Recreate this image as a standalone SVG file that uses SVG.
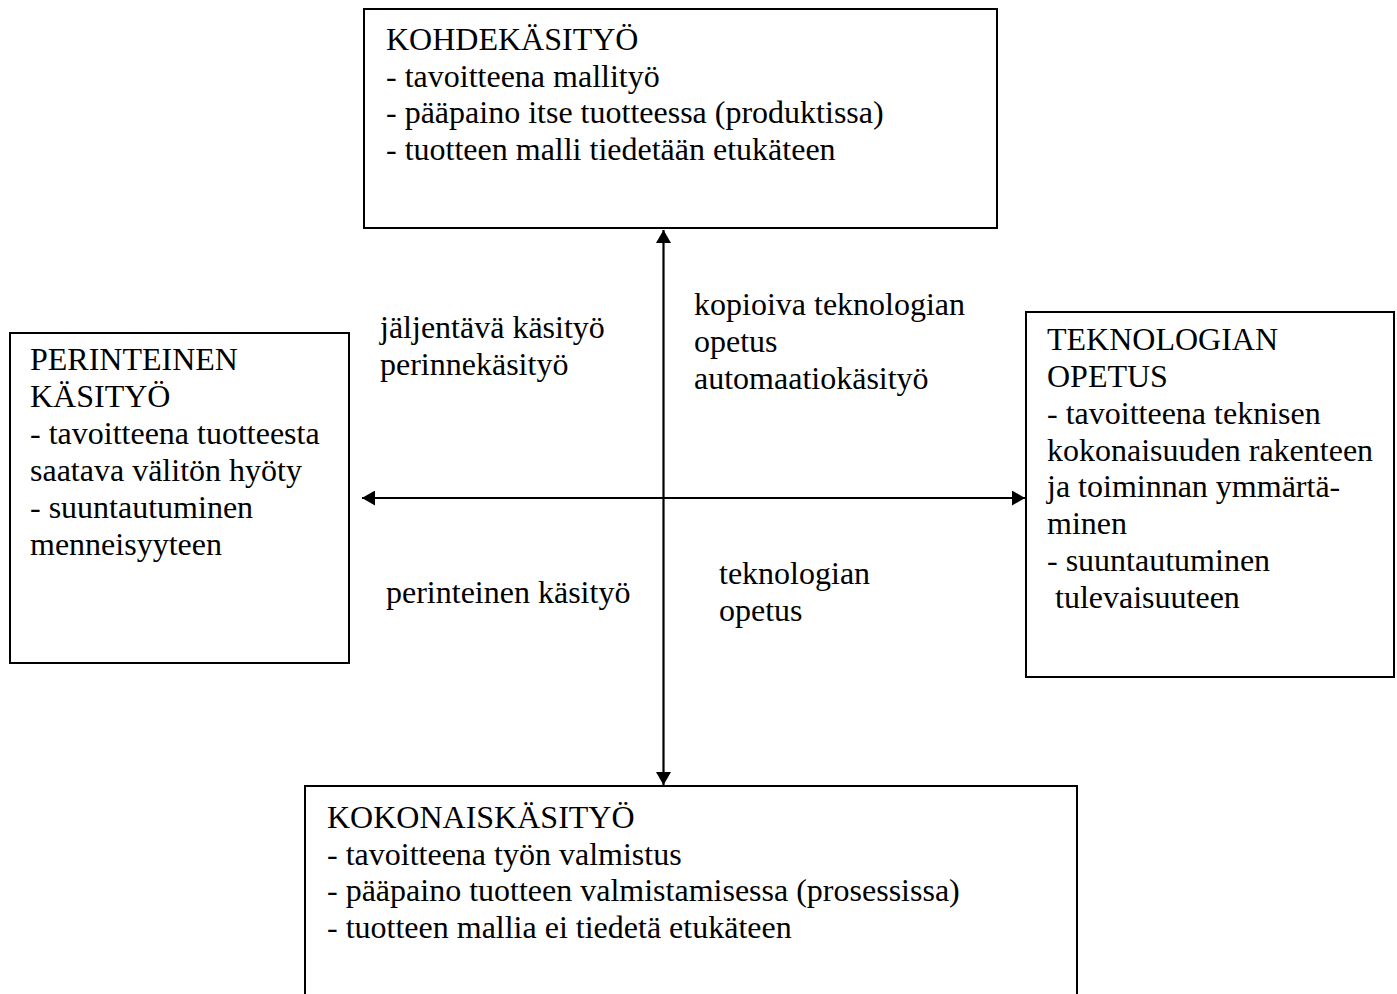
<svg xmlns="http://www.w3.org/2000/svg" width="1397" height="994" viewBox="0 0 1397 994">
<style>
.box{fill:#fff;stroke:#000;stroke-width:2}
text{font-family:"Liberation Serif","Times New Roman",serif;font-size:32px;fill:#000}
.conn{stroke:#000;stroke-width:2.2;fill:none}
</style>
<defs>
<marker id="ah" viewBox="0 0 13 15" refX="13" refY="7.5" markerWidth="13" markerHeight="15" markerUnits="userSpaceOnUse" orient="auto">
<path d="M0,0 L13,7.5 L0,15 Z" fill="#000"/>
</marker>
</defs>
<rect width="1397" height="994" fill="#fff"/>
<g id="connectors">
<line class="conn" x1="663.5" y1="497" x2="663.5" y2="230" marker-end="url(#ah)"/>
<line class="conn" x1="663.5" y1="497" x2="663.5" y2="785" marker-end="url(#ah)"/>
<line class="conn" x1="663.5" y1="498" x2="362" y2="498" marker-end="url(#ah)"/>
<line class="conn" x1="663.5" y1="498" x2="1025" y2="498" marker-end="url(#ah)"/>
</g>
<g id="kohdekasityo">
<rect class="box" x="364" y="9" width="633" height="219"/>
<text x="386" y="50">KOHDEKÄSITYÖ</text>
<text x="386" y="87">- tavoitteena mallityö</text>
<text x="386" y="123">- pääpaino itse tuotteessa (produktissa)</text>
<text x="386" y="160">- tuotteen malli tiedetään etukäteen</text>
</g>
<g id="perinteinen">
<rect class="box" x="10" y="333" width="339" height="330"/>
<text x="30" y="370">PERINTEINEN</text>
<text x="30" y="407">KÄSITYÖ</text>
<text x="30" y="444">- tavoitteena tuotteesta</text>
<text x="30" y="481">saatava välitön hyöty</text>
<text x="30" y="518">- suuntautuminen</text>
<text x="30" y="555">menneisyyteen</text>
</g>
<g id="teknologian-opetus">
<rect class="box" x="1026" y="312" width="368" height="365"/>
<text x="1047" y="350">TEKNOLOGIAN</text>
<text x="1047" y="387">OPETUS</text>
<text x="1047" y="424">- tavoitteena teknisen</text>
<text x="1047" y="461">kokonaisuuden rakenteen</text>
<text x="1047" y="497">ja toiminnan ymmärtä-</text>
<text x="1047" y="534">minen</text>
<text x="1047" y="571">- suuntautuminen</text>
<text x="1047" y="608" xml:space="preserve"> tulevaisuuteen</text>
</g>
<g id="kokonaiskasityo">
<rect class="box" x="305" y="786" width="772" height="230"/>
<text x="327" y="828">KOKONAISKÄSITYÖ</text>
<text x="327" y="865">- tavoitteena työn valmistus</text>
<text x="327" y="901">- pääpaino tuotteen valmistamisessa (prosessissa)</text>
<text x="327" y="938">- tuotteen mallia ei tiedetä etukäteen</text>
</g>
<g id="labels">
<text x="380" y="338">jäljentävä käsityö</text>
<text x="380" y="375">perinnekäsityö</text>
<text x="694" y="315">kopioiva teknologian</text>
<text x="694" y="352">opetus</text>
<text x="694" y="389">automaatiokäsityö</text>
<text x="386" y="603">perinteinen käsityö</text>
<text x="719" y="584">teknologian</text>
<text x="719" y="621">opetus</text>
</g>
</svg>
